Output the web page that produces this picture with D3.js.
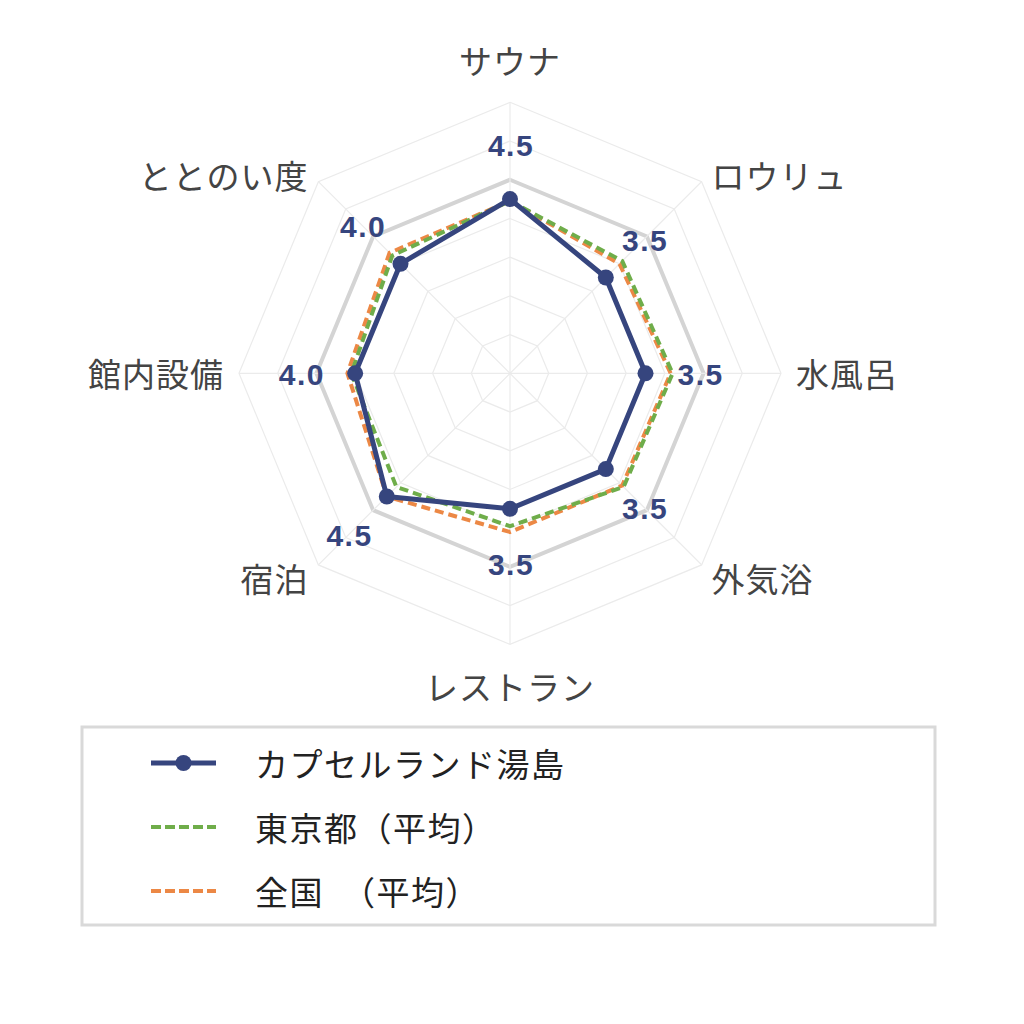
<!DOCTYPE html>
<html><head><meta charset="utf-8">
<script src="https://cdn.jsdelivr.net/npm/d3@7"></script>
<style>
html,body{margin:0;padding:0;background:#fff;}
svg{display:block;}
</style></head>
<body>
<svg id="chart" width="1024" height="1024"></svg>
<script>
const categories = ["サウナ","ロウリュ","水風呂","外気浴","レストラン","宿泊","館内設備","ととのい度"];
const facilityValues = [4.5, 3.5, 3.5, 3.5, 3.5, 4.5, 4.0, 4.0];
const tokyoValues    = [4.45, 4.1, 4.2, 4.15, 3.95, 4.15, 4.1, 4.3];
const nationalValues = [4.45, 4.0, 4.15, 4.1, 4.1, 4.5, 4.2, 4.4];
const ringLevels = [1, 2, 3, 4, 5, 6, 7];
const seriesNames = ["カプセルランド湯島", "東京都（平均）", "全国　（平均）"];

const svg = d3.select("#chart");
const cx = 510, cy = 373.3, R = 271;
const r = d3.scaleLinear().domain([0, 7]).range([0, R]);
const n = categories.length;
const angle = i => i * 2 * Math.PI / n; // 0 = up, clockwise
const px = (i, v) => cx + r(v) * Math.sin(angle(i));
const py = (i, v) => cy - r(v) * Math.cos(angle(i));

const g = svg.append("g");

// rings
ringLevels.forEach(lv => {
  const pts = categories.map((c, i) => [px(i, lv), py(i, lv)]);
  g.append("polygon")
    .attr("points", pts.map(p => p.join(",")).join(" "))
    .attr("fill", "none")
    .attr("stroke", lv === 5 ? "#d4d4d4" : "#ebebeb")
    .attr("stroke-width", lv === 5 ? 4 : 1.2);
});
// spokes
categories.forEach((c, i) => {
  g.append("line")
    .attr("x1", cx).attr("y1", cy)
    .attr("x2", px(i, 7)).attr("y2", py(i, 7))
    .attr("stroke", "#ebebeb").attr("stroke-width", 1.2);
});

const line = d3.lineRadial()
  .angle((d, i) => angle(i))
  .radius(d => r(d))
  .curve(d3.curveLinearClosed);

const plot = g.append("g").attr("transform", `translate(${cx},${cy})`);
const colBlue = "#36457e", colGreen = "#6fad4a", colOrange = "#ec8845";

plot.append("path").datum(nationalValues).attr("d", line)
  .attr("fill", "none").attr("stroke", colOrange).attr("stroke-width", 4)
  .attr("stroke-dasharray", "9,5");
plot.append("path").datum(tokyoValues).attr("d", line)
  .attr("fill", "none").attr("stroke", colGreen).attr("stroke-width", 4)
  .attr("stroke-dasharray", "9,5");
plot.append("path").datum(facilityValues).attr("d", line)
  .attr("fill", "none").attr("stroke", colBlue).attr("stroke-width", 5)
  .attr("stroke-linejoin", "round");
facilityValues.forEach((v, i) => {
  g.append("circle").attr("cx", px(i, v)).attr("cy", py(i, v))
    .attr("r", 8).attr("fill", colBlue);
});

// value labels
facilityValues.forEach((v, i) => {
  g.append("text")
    .attr("x", px(i, v + 1.4) + 1).attr("y", py(i, v + 1.4) + 1)
    .attr("text-anchor", "middle").attr("dominant-baseline", "central")
    .attr("font-family", "'Liberation Sans', Arial, sans-serif")
    .attr("font-weight", "bold").attr("font-size", 30)
    .attr("letter-spacing", 1.5)
    .attr("fill", colBlue)
    .text(v.toFixed(1));
});

// axis labels
categories.forEach((c, i) => {
  const a = angle(i);
  const s = Math.sin(a), co = Math.cos(a);
  let x, y, anchor;
  if (Math.abs(s) < 0.01) {
    x = cx; y = cy - (R + 42) * co; anchor = "middle";
  } else {
    const rr = Math.abs(co) < 0.01 ? R + 15 : R + 14;
    x = cx + rr * s; y = cy - rr * co + (Math.abs(co) < 0.01 ? 0 : 3);
    anchor = s > 0 ? "start" : "end";
  }
  g.append("text").attr("x", x).attr("y", y)
    .attr("text-anchor", anchor).attr("dominant-baseline", "central")
    .attr("font-family", "'Noto Sans CJK JP', sans-serif")
    .attr("font-size", 33).attr("letter-spacing", 1)
    .attr("fill", "#444")
    .text(c);
});

// legend
const lg = svg.append("g");
lg.append("rect").attr("x", 82).attr("y", 727).attr("width", 853).attr("height", 198)
  .attr("fill", "#fff").attr("stroke", "#d9d9d9").attr("stroke-width", 3);
const rowsY = [763, 827, 891];
const styles = [
  {c: colBlue, w: 5, dash: null, marker: true},
  {c: colGreen, w: 4, dash: "10,4", marker: false},
  {c: colOrange, w: 4, dash: "10,4", marker: false}
];
seriesNames.forEach((name, k) => {
  const st = styles[k];
  lg.append("line").attr("x1", 151).attr("x2", 216)
    .attr("y1", rowsY[k]).attr("y2", rowsY[k])
    .attr("stroke", st.c).attr("stroke-width", st.w)
    .attr("stroke-dasharray", st.dash);
  if (st.marker) lg.append("circle").attr("cx", 183.5).attr("cy", rowsY[k]).attr("r", 8).attr("fill", st.c);
  lg.append("text").attr("x", 255).attr("y", rowsY[k])
    .attr("dominant-baseline", "central")
    .attr("font-family", "'Noto Sans CJK JP', sans-serif")
    .attr("font-size", 33).attr("letter-spacing", 1.5)
    .attr("fill", "#222")
    .text(name);
});
</script>
</body></html>
